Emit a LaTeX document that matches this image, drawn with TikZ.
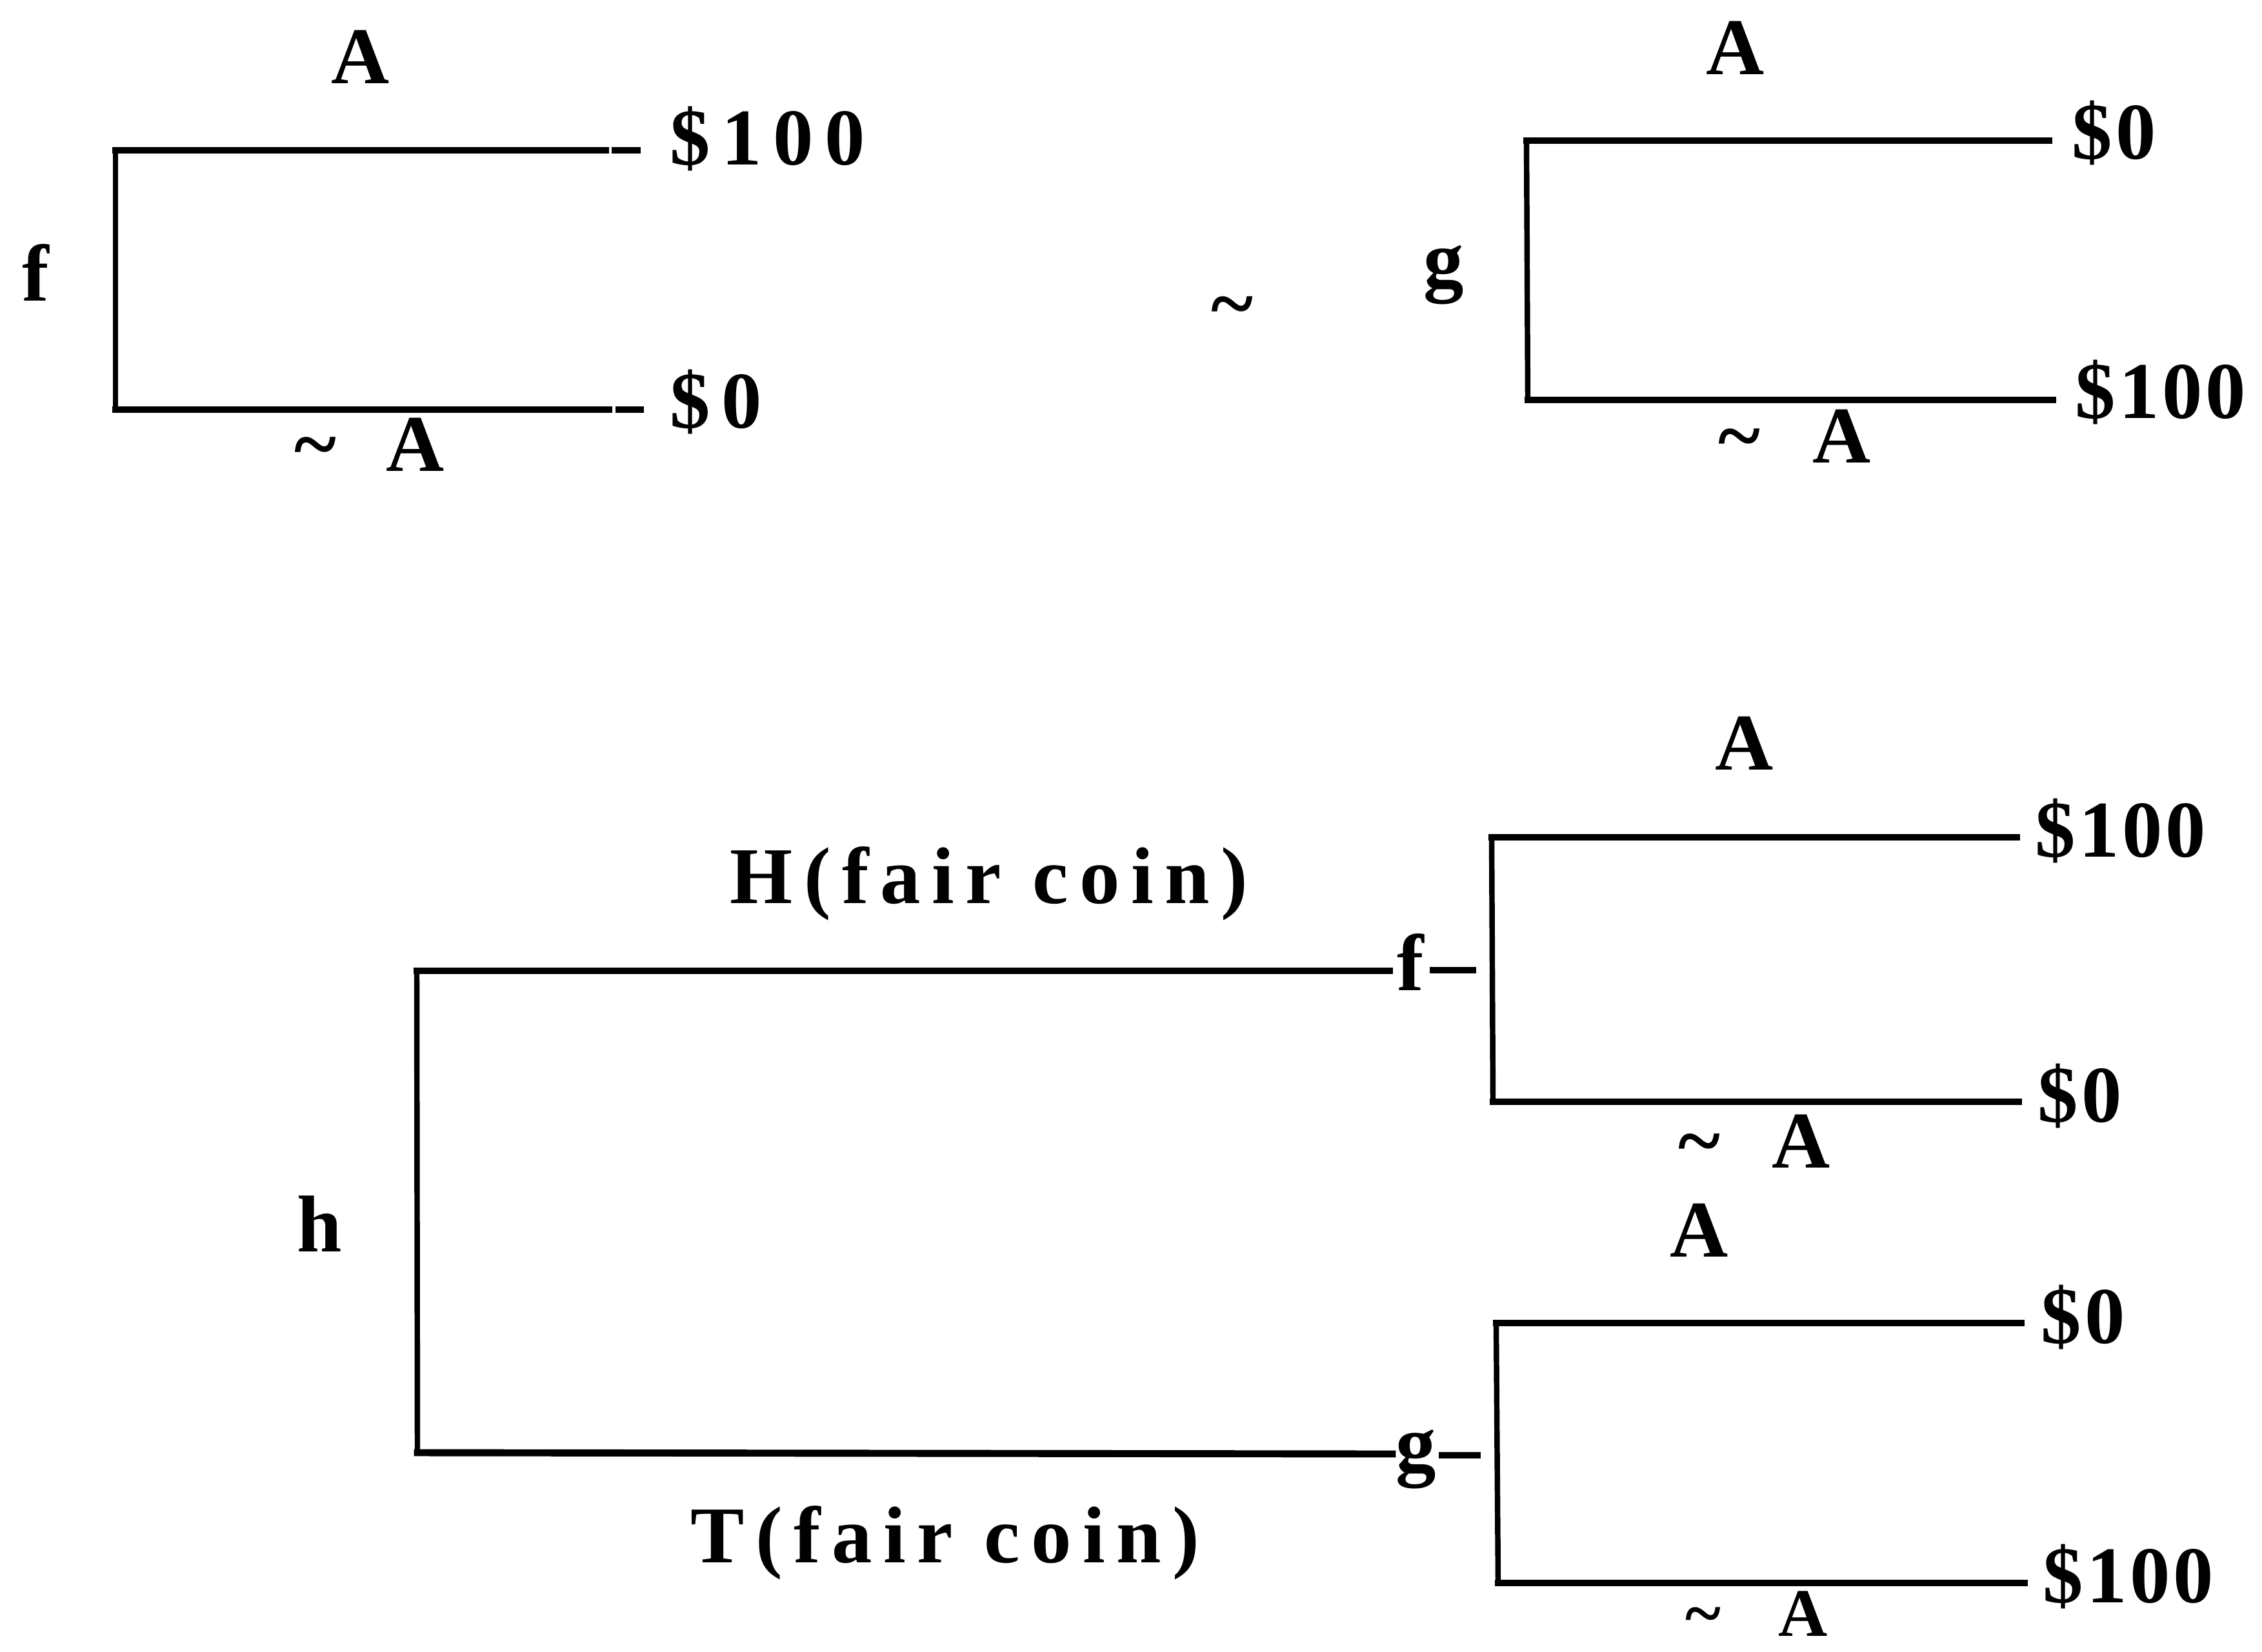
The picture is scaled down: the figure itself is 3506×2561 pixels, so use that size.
\documentclass[tikz,border=0pt]{standalone}
\usepackage{fontspec}
\newfontfamily\lblfont{Liberation Serif}[LetterSpace=14]
\newfontfamily\payfont{Liberation Serif}[LetterSpace=4]
\tikzset{
  lbl/.style={font=\lblfont\bfseries\fontsize{35.5}{40}\selectfont, inner sep=0pt},
  lblsmall/.style={font=\lblfont\bfseries\fontsize{30}{34}\selectfont, inner sep=0pt},
  pay/.style={font=\payfont\bfseries\fontsize{35.5}{40}\selectfont, inner sep=0pt},
  hline/.style={line width=3.1pt, line cap=rect},
  vline/.style={line width=2.4pt, line cap=rect},
}
\begin{document}
\begin{tikzpicture}[x=0.01cm, y=-0.01cm]
\useasboundingbox (0,0) rectangle (3506,2561);

% ---------- act f ----------
\coordinate (fT) at (179,233);
\coordinate (fB) at (179,635);
\coordinate (fTe) at (939,233);
\coordinate (fTd1) at (953,233);
\coordinate (fTd2) at (988,233);
\coordinate (fBe) at (944,635);
\coordinate (fBd1) at (959,635);
\coordinate (fBd2) at (993,635);
\node[lbl, anchor=base] (fname) at (55,467) {f};
\node[lbl, anchor=base] (fA) at (559,130) {A};
\node[lbl, anchor=base] (fnt) at (489,730) {\textasciitilde};
\node[lbl, anchor=base] (fnA) at (644,730) {A};
\node[lbl, anchor=base west] (f100) at (1038,256) {\$100};
\node[lbl, anchor=base west] (f0) at (1038,663) {\$0};
\draw[vline] (fT) -- (fB);
\draw[hline] (fT) -- (fTe);
\draw[hline] (fTd1) -- (fTd2);
\draw[hline] (fB) -- (fBe);
\draw[hline] (fBd1) -- (fBd2);

% indifference sign
\node[lbl, anchor=base] (eq) at (1910,512) {\textasciitilde};

% ---------- act g ----------
\coordinate (gT) at (2366,218);
\coordinate (gB) at (2368,620);
\coordinate (gTe) at (3176,218);
\coordinate (gBe) at (3182,620);
\node[lbl, anchor=base] (gname) at (2238,445) {g};
\node[lbl, anchor=base] (gA) at (2690,116) {A};
\node[lbl, anchor=base] (gnt) at (2696,717) {\textasciitilde};
\node[lbl, anchor=base] (gnA) at (2855,717) {A};
\node[pay, anchor=base west] (g0) at (3211,247) {\$0};
\node[pay, anchor=base west] (g100) at (3216,648) {\$100};
\draw[vline] (gT) -- (gB);
\draw[hline] (gT) -- (gTe);
\draw[hline] (gB) -- (gBe);

% ---------- compound act h ----------
\coordinate (hT) at (646,1505);
\coordinate (hB) at (647,2252);
\coordinate (hTe) at (2154,1505);
\coordinate (hBe) at (2158,2254);
\node[lbl, anchor=base] (hname) at (495,1940) {h};
\node[lbl, anchor=base] (hH) at (1533,1400) {H(fair coin)};
\node[lbl, anchor=base] (hTl) at (1465,2422) {T(fair coin)};
\node[lbl, anchor=base] (hf) at (2186,1535) {f};
\node[lbl, anchor=base] (hg) at (2195,2280) {g};
\coordinate (hfd1) at (2221,1504);
\coordinate (hfd2) at (2283,1504);
\coordinate (hgd1) at (2235,2256);
\coordinate (hgd2) at (2290,2256);
\draw[vline] (hT) -- (hB);
\draw[hline] (hT) -- (hTe);
\draw[hline] (hB) -- (hBe);
\draw[hline] (hfd1) -- (hfd2);
\draw[hline] (hgd1) -- (hgd2);

% sub-act f under heads
\coordinate (sfT) at (2312,1298);
\coordinate (sfB) at (2314,1708);
\coordinate (sfTe) at (3126,1298);
\coordinate (sfBe) at (3129,1708);
\node[lbl, anchor=base] (sfA) at (2704,1193) {A};
\node[lbl, anchor=base] (sfnt) at (2634,1810) {\textasciitilde};
\node[lbl, anchor=base] (sfnA) at (2792,1810) {A};
\node[pay, anchor=base west] (sf100) at (3154,1328) {\$100};
\node[pay, anchor=base west] (sf0) at (3158,1739) {\$0};
\draw[vline] (sfT) -- (sfB);
\draw[hline] (sfT) -- (sfTe);
\draw[hline] (sfB) -- (sfBe);

% sub-act g under tails
\coordinate (sgT) at (2319,2051);
\coordinate (sgB) at (2322,2454);
\coordinate (sgTe) at (3133,2051);
\coordinate (sgBe) at (3138,2454);
\node[lbl, anchor=base] (sgA) at (2634,1948) {A};
\node[lblsmall, anchor=base] (sgnt) at (2640,2536) {\textasciitilde};
\node[lblsmall, anchor=base] (sgnA) at (2795,2536) {A};
\node[pay, anchor=base west] (sg0) at (3163,2082) {\$0};
\node[pay, anchor=base west] (sg100) at (3166,2484) {\$100};
\draw[vline] (sgT) -- (sgB);
\draw[hline] (sgT) -- (sgTe);
\draw[hline] (sgB) -- (sgBe);
\end{tikzpicture}
\end{document}
